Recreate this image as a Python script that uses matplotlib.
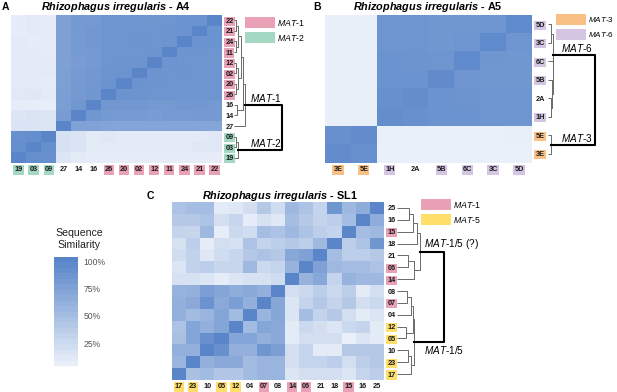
import numpy as np
import matplotlib
matplotlib.use("Agg")
import matplotlib.pyplot as plt
from matplotlib.colors import LinearSegmentedColormap, Normalize
from matplotlib.cm import ScalarMappable
from matplotlib.patches import Rectangle

plt.rcParams['font.family'] = ['Liberation Sans', 'DejaVu Sans']
plt.rcParams['mathtext.fontset'] = 'custom'
plt.rcParams['mathtext.it'] = 'Liberation Sans:italic'
plt.rcParams['mathtext.rm'] = 'Liberation Sans'
plt.rcParams['mathtext.bfit'] = 'Liberation Sans:italic:bold'

# ---- panel A (A4) ----
rows_a = ['22', '21', '24', '11', '12', '02', '20', '26', '16', '14', '27', '09', '03', '19']
cols_a = ['19', '03', '09', '27', '14', '16', '26', '20', '02', '12', '11', '24', '21', '22']
mat1_a = ['22', '21', '24', '11', '12', '02', '20', '26']
mat2_a = ['09', '03', '19']
sim_a = [
    [8, 10, 8, 76, 82, 82, 86, 86, 86, 85, 86, 88, 88, 100],
    [8, 9, 8, 76, 82, 83, 86, 86, 86, 86, 87, 88, 100, 88],
    [9, 8, 8, 76, 81, 83, 86, 86, 87, 86, 87, 100, 88, 88],
    [10, 9, 8, 76, 81, 82, 86, 86, 86, 87, 100, 87, 87, 86],
    [10, 10, 9, 76, 80, 82, 86, 87, 87, 100, 87, 86, 86, 85],
    [10, 10, 9, 77, 81, 83, 87, 88, 100, 87, 86, 87, 86, 86],
    [9, 10, 8, 77, 82, 83, 88, 100, 88, 87, 86, 86, 86, 86],
    [11, 12, 10, 78, 82, 84, 100, 88, 87, 86, 86, 86, 86, 86],
    [8, 7, 7, 78, 84, 100, 84, 83, 83, 82, 82, 83, 83, 82],
    [14, 16, 15, 80, 100, 84, 82, 81, 81, 80, 81, 81, 82, 82],
    [16, 16, 15, 100, 74, 74, 73, 72, 72, 72, 72, 72, 72, 72],
    [90, 92, 100, 18, 16, 10, 12, 10, 10, 10, 10, 10, 10, 12],
    [92, 100, 92, 18, 16, 10, 10, 10, 10, 10, 10, 10, 12, 12],
    [100, 92, 90, 14, 10, 8, 8, 8, 8, 8, 8, 8, 8, 8],
]
# tree: (left, right, height); leaves are row indices
tree_a1 = (((((0, 1, 2), (2, 3, 2), 4), ((4, 5, 2), (6, 7, 2), 4), 7), (8, 9, 3), 9), 10, 11)
tree_a2 = ((11, 12, 1.5), 13, 3.5)

# ---- panel B (A5) ----
rows_b = ['5D', '3C', '6C', '5B', '2A', '1H', '5E', '3E']
cols_b = ['3E', '5E', '1H', '2A', '5B', '6C', '3C', '5D']
mat3_b = ['5E', '3E']
mat6_b = ['5D', '3C', '6C', '5B', '1H']
sim_b = [
    [6, 6, 86, 86, 84, 84, 86, 96],
    [6, 6, 86, 86, 84, 86, 96, 86],
    [6, 6, 88, 87, 86, 96, 85, 84],
    [6, 6, 88, 88, 95, 86, 84, 84],
    [6, 6, 90, 93, 88, 87, 86, 86],
    [6, 6, 93, 90, 88, 88, 86, 86],
    [90, 94, 5, 5, 5, 5, 5, 6],
    [94, 90, 5, 5, 5, 5, 5, 5],
]
tree_b6 = ((0, 1, 3), (2, (3, (4, 5, 3), 4), 4.5), 5)
tree_b3 = (6, 7, 3)

# ---- panel C (SL1) ----
rows_c = ['25', '16', '15', '18', '21', '06', '14', '08', '07', '04', '12', '05', '10', '23', '17']
cols_c = ['17', '23', '10', '05', '12', '04', '07', '08', '14', '06', '21', '18', '15', '16', '25']
mat1_c = ['15', '06', '14', '07']
mat5_c = ['12', '05', '23', '17']
sim_c = [
    [45, 50, 50, 10, 12, 20, 40, 22, 55, 45, 30, 85, 55, 65, 100],
    [40, 40, 45, 20, 28, 8, 18, 12, 50, 40, 30, 35, 50, 100, 65],
    [30, 28, 55, 8, 25, 22, 50, 45, 55, 45, 35, 30, 100, 50, 55],
    [18, 35, 8, 20, 18, 45, 30, 35, 40, 35, 55, 100, 35, 45, 85],
    [22, 32, 12, 22, 28, 40, 45, 40, 70, 75, 100, 50, 35, 35, 40],
    [15, 32, 35, 28, 28, 55, 25, 30, 60, 100, 75, 55, 50, 50, 45],
    [18, 18, 14, 8, 15, 18, 18, 22, 100, 60, 70, 30, 60, 55, 55],
    [60, 62, 78, 72, 65, 68, 62, 100, 20, 25, 35, 25, 35, 10, 20],
    [62, 68, 88, 68, 78, 62, 100, 70, 15, 30, 40, 30, 40, 20, 25],
    [62, 52, 58, 72, 52, 100, 58, 70, 15, 50, 30, 40, 20, 10, 15],
    [45, 72, 62, 72, 100, 52, 72, 68, 10, 25, 20, 15, 25, 30, 10],
    [48, 72, 90, 100, 72, 72, 62, 68, 10, 20, 20, 20, 5, 15, 10],
    [62, 62, 100, 90, 62, 62, 85, 78, 20, 30, 10, 10, 40, 40, 40],
    [58, 100, 62, 68, 68, 52, 58, 58, 20, 30, 30, 35, 20, 35, 40],
    [100, 48, 52, 42, 42, 52, 58, 58, 15, 20, 20, 20, 15, 30, 35],
]
tree_c_top = ((((0, 1, 12), 2, 16), 3, 20), ((4, 5, 11), 6, 17), 23)
tree_c_bot = ((((7, 8, 10), 9, 14), (10, 11, 9), 16), ((12, 13, 11), 14, 14), 17)

cbar_ticks = [25, 50, 75, 100]

PINK = '#E9A1B5'
GREEN = '#A3D9C2'
ORANGE = '#F8C084'
PURPLE = '#D4C5E3'
YELLOW = '#FFDF6A'

W, H = 617, 392
fig = plt.figure(figsize=(W / 100, H / 100), dpi=100)

cmap = LinearSegmentedColormap.from_list('sim', ['#F2F6FC', '#5A86C9'])
norm = Normalize(0, 100)


def px_axes(x0, y0, x1, y1):
    return fig.add_axes([x0 / W, 1 - y1 / H, (x1 - x0) / W, (y1 - y0) / H])


def heat(box, mat, rows, cols, groups):
    ax = px_axes(*box)
    ax.imshow(np.array(mat), cmap=cmap, norm=norm, aspect='auto', interpolation='nearest')
    ax.set_xticks(range(len(cols)), cols)
    ax.set_yticks(range(len(rows)), rows)
    ax.yaxis.tick_right()
    ax.tick_params(length=0, labelsize=5.3, pad=2.5, labelcolor='#1a1a1a')
    for t in ax.get_xticklabels() + ax.get_yticklabels():
        t.set_fontweight('bold')
        for names, col in groups:
            if t.get_text() in names:
                t.set_bbox(dict(boxstyle='square,pad=0.15', fc=col, ec='none'))
    for s in ax.spines.values():
        s.set_visible(False)
    return ax


box_a = (11, 15, 222, 163)
box_b = (325, 15, 532, 163)
box_c = (172, 202, 384, 380)

heat(box_a, sim_a, rows_a, cols_a, [(mat1_a, PINK), (mat2_a, GREEN)])
heat(box_b, sim_b, rows_b, cols_b, [(mat3_b, ORANGE), (mat6_b, PURPLE)])
heat(box_c, sim_c, rows_c, cols_c, [(mat1_c, PINK), (mat5_c, YELLOW)])

# colorbar
cax = px_axes(54, 257, 78, 366)
cb = fig.colorbar(ScalarMappable(norm=norm, cmap=cmap), cax=cax,
                  boundaries=np.linspace(4, 104, 21), ticks=cbar_ticks)
cb.outline.set_visible(False)
cb.set_ticklabels([f'{t}%' for t in cbar_ticks])
cax.tick_params(length=0, labelsize=6.2, labelcolor='#555555', pad=4)

# overlay in pixel coordinates
ov = fig.add_axes([0, 0, 1, 1], facecolor='none')
ov.set_xlim(0, W)
ov.set_ylim(H, 0)
ov.axis('off')


def centers(box, n):
    top, bot = box[1], box[3]
    return [top + (k + 0.5) * (bot - top) / n for k in range(n)]


def tree(node, ys, x0, color='#6a6a6a', lw=0.7):
    if isinstance(node, int):
        return ys[node], 0
    left, right, h = node
    y1, h1 = tree(left, ys, x0, color, lw)
    y2, h2 = tree(right, ys, x0, color, lw)
    ov.plot([x0 + h1, x0 + h, x0 + h, x0 + h2], [y1, y1, y2, y2], color=color, lw=lw,
            solid_capstyle='butt')
    return (y1 + y2) / 2, h


def bracket(ys, x0, top_tree, bot_tree, xb):
    yt, ht = tree(top_tree, ys, x0)
    yb, hb = tree(bot_tree, ys, x0)
    ov.plot([x0 + ht, xb, xb, x0 + hb], [yt, yt, yb, yb], color='black', lw=1.5)
    return yt, yb


def mat_text(x, y, num, va, size=7.2):
    ov.text(x, y, r'$\it{MAT}$-' + num, fontsize=size, va=va, ha='left')


ys_a = centers(box_a, len(rows_a))
yt, yb = bracket(ys_a, 234, tree_a1, tree_a2, 282)
mat_text(250, yt - 1, '1', 'bottom')
mat_text(250, yb - 1, '2', 'bottom')

ys_b = centers(box_b, len(rows_b))
yt, yb = bracket(ys_b, 548, tree_b6, tree_b3, 595)
mat_text(561, yt - 1, '6', 'bottom')
mat_text(561, yb - 1, '3', 'bottom')

ys_c = centers(box_c, len(rows_c))
yt, yb = bracket(ys_c, 397, tree_c_top, tree_c_bot, 444)
mat_text(424, yt - 1, '1/5 (?)', 'bottom')
mat_text(424, yb + 1.5, '1/5', 'top')


def legend(x, y, items, size=6.3):
    for i, (col, num) in enumerate(items):
        yy = y + i * 15
        ov.add_patch(Rectangle((x, yy), 30, 11, fc=col, ec='none'))
        mat_text(x + 32, yy + 5.5, num, 'center', size=size)


legend(245, 16.5, [(PINK, '1'), (GREEN, '2')])
legend(556, 13.5, [(ORANGE, '3'), (PURPLE, '6')], size=5.9)
legend(421, 199, [(PINK, '1'), (YELLOW, '5')])

# titles and panel letters
ttl = r'$\mathbfit{Rhizophagus\ irregularis}$ - '
ov.text(116, 7, ttl + 'A4', fontsize=7.8, fontweight='bold', ha='center', va='center')
ov.text(428, 7, ttl + 'A5', fontsize=7.8, fontweight='bold', ha='center', va='center')
ov.text(280, 196, ttl + 'SL1', fontsize=7.8, fontweight='bold', ha='center', va='center')
for letter, x, y in [('A', 2, 7), ('B', 313, 7), ('C', 147, 196)]:
    ov.text(x, y, letter, fontsize=7.5, fontweight='bold', ha='left', va='center')

ov.text(79, 239, 'Sequence\nSimilarity', fontsize=7.6, ha='center', va='center',
        linespacing=1.15, color='#222222')

fig.savefig('out.png', dpi=100)
